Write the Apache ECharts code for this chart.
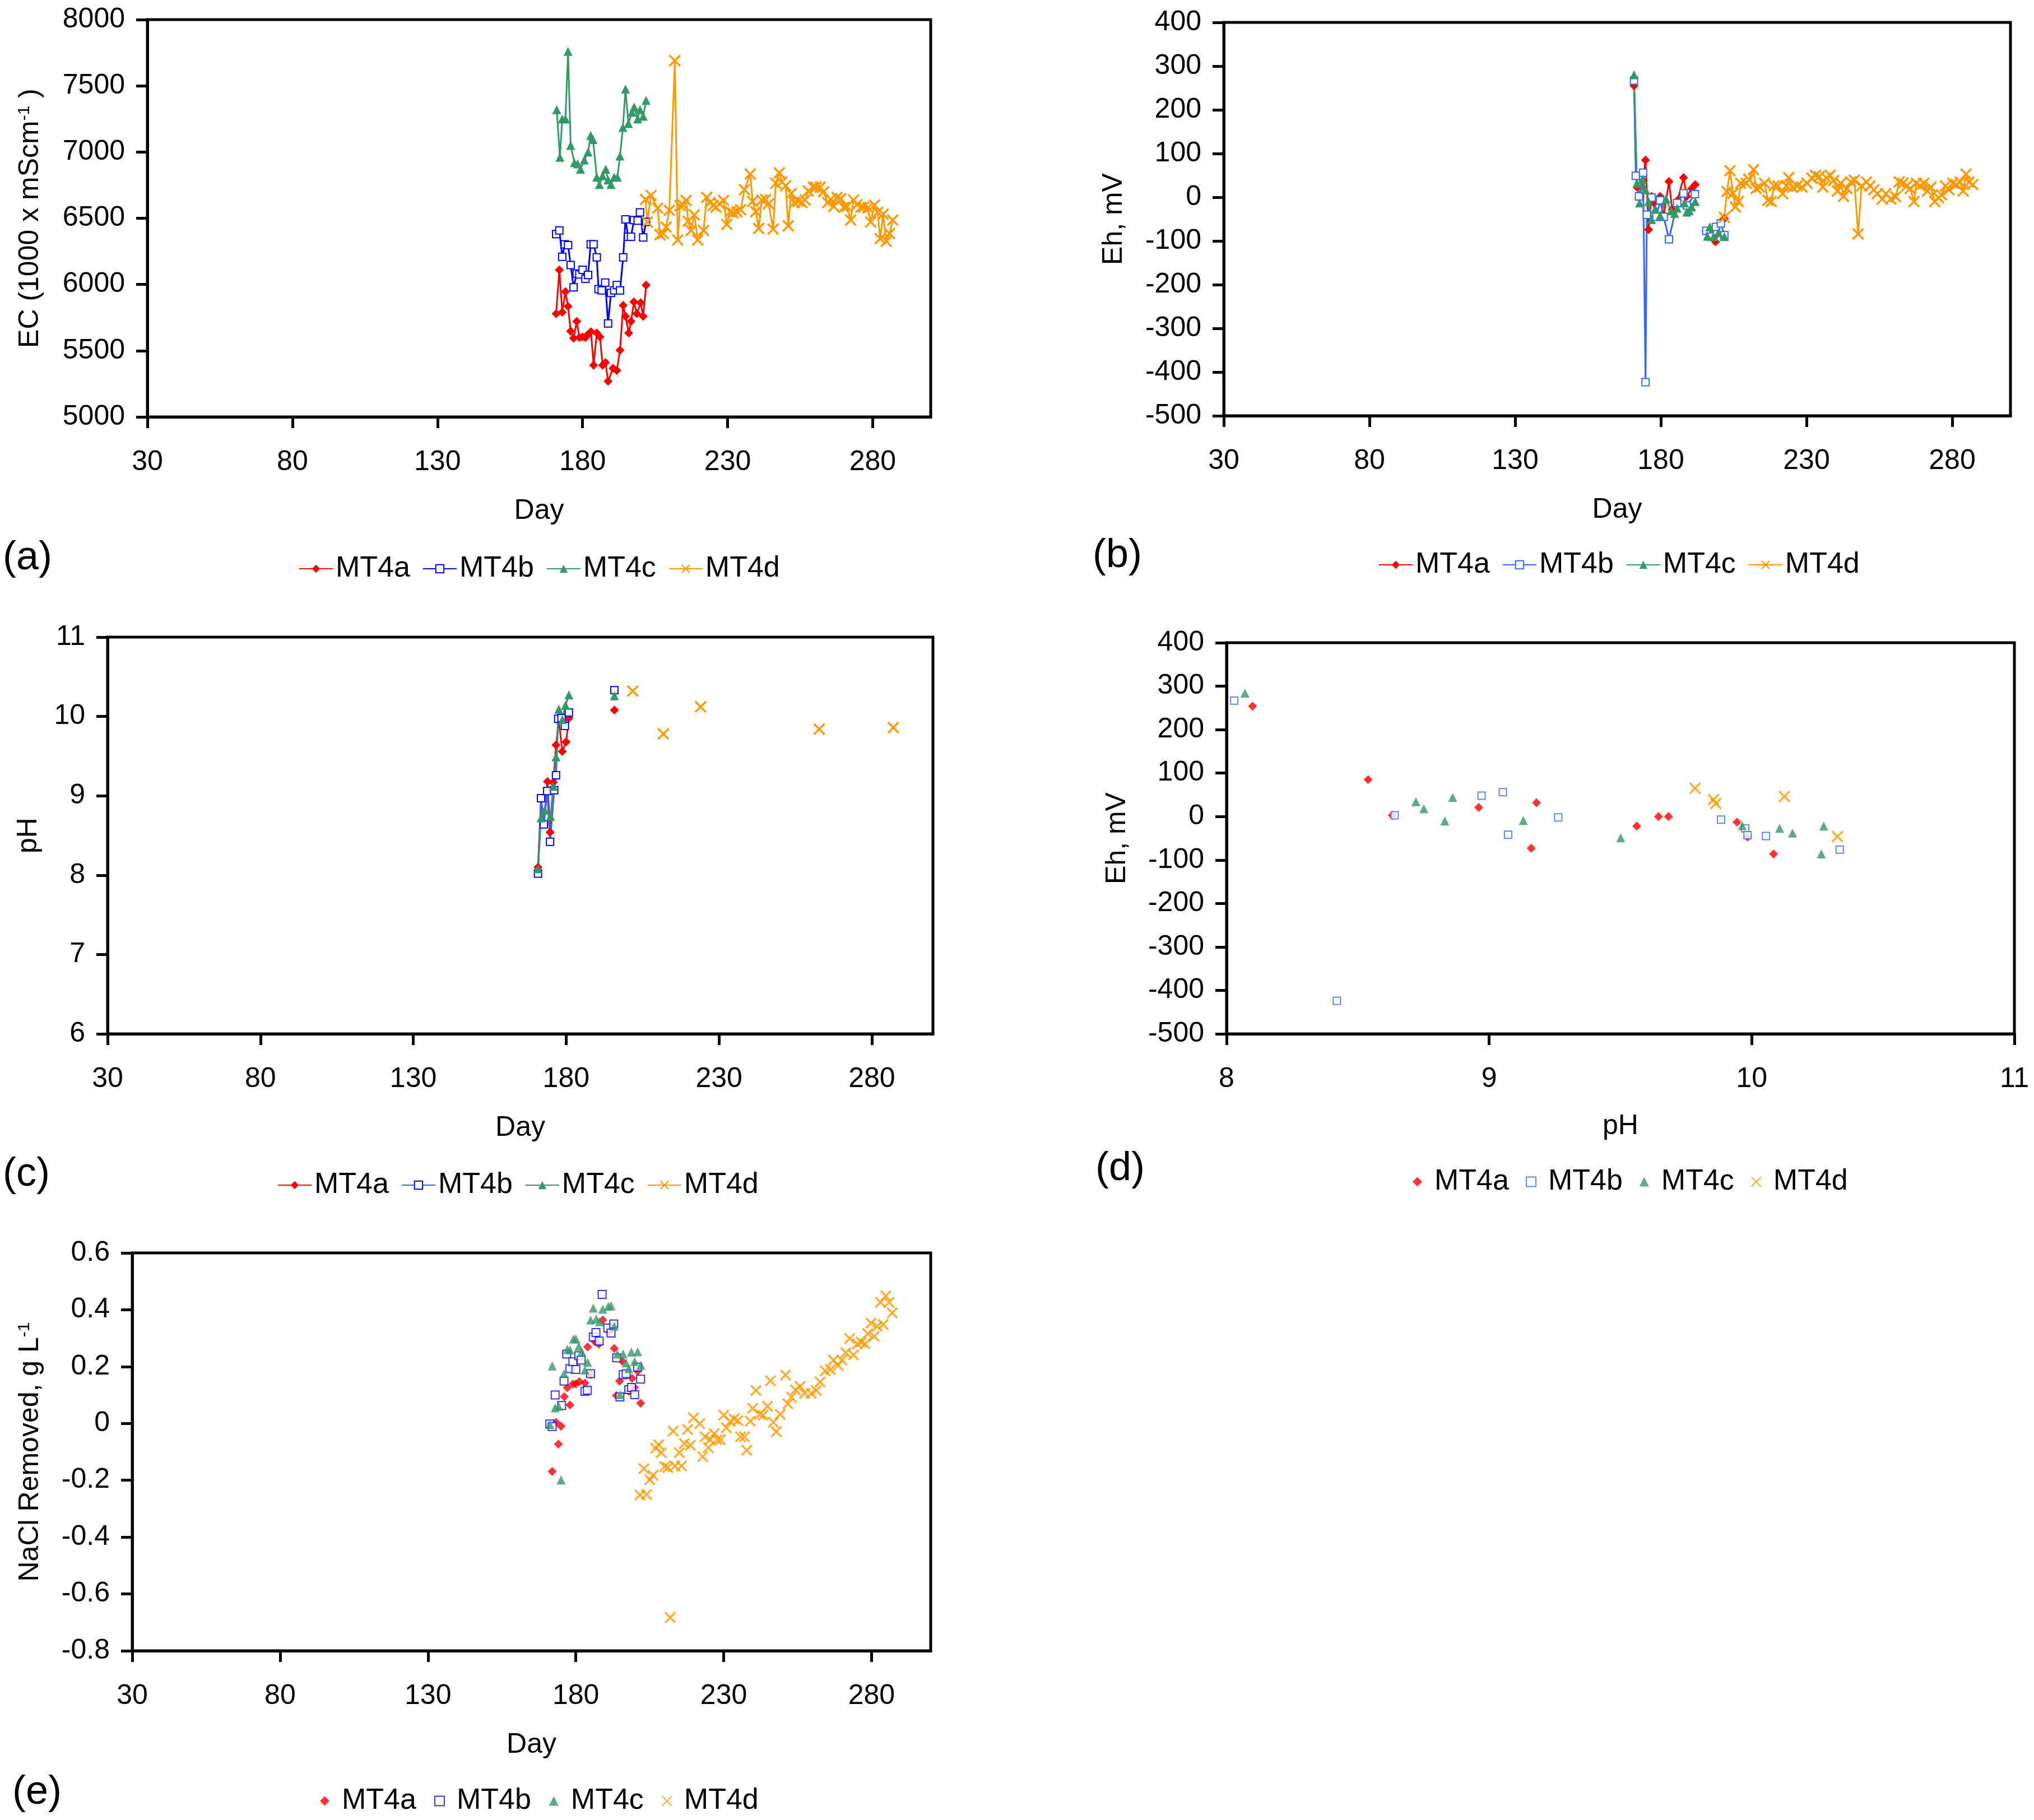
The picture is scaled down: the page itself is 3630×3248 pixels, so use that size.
<!DOCTYPE html>
<html><head><meta charset="utf-8">
<script src="https://cdn.jsdelivr.net/npm/echarts@6/dist/echarts.min.js"></script>
<style>html,body{margin:0;padding:0;background:#fff}#chart{width:3630px;height:3248px}</style>
</head><body><div id="chart"></div>
<script>
// ---------- (a) EC vs Day ----------
const ecDayA = [170.9,172,173,174.1,175,175.9,176.9,178,178.9,180,181,181.9,182.9,183.8,184.9,186,186.9,187.9,188.8,190.5,191.8,192.9,194,194.8,195.9,196.7,197.7,198.7,200,200.9,201.9];
const ecA = [5780,6110,5790,5946,5835,5647,5595,5721,5600,5604,5600,5624,5643,5390,5634,5604,5390,5410,5270,5367,5351,5503,5842,5760,5634,5721,5868,5780,5862,5760,5995];
const ecDayB = [170.9,172,173,173.9,175,175.9,176.9,178,178.9,180,181,181.9,182.8,183.8,184.9,185.5,186.6,187.8,188.8,189.8,190.9,191.8,192.9,194,194.8,195.7,196.7,197.7,199,199.8,200.9,201.9];
const ecB = [6380,6408,6209,6303,6297,6147,5979,6082,6076,6111,6043,6072,6303,6303,6205,5965,5955,6014,5706,5936,5955,5995,5955,6205,6492,6360,6360,6486,6482,6544,6355,6472];
const ecDayC = [171.1,172.2,173,174.1,175,175.9,177.2,178.3,179.3,180.6,181.9,182.8,183.6,184.9,185.8,186.9,188,188.8,189.8,190.9,192,192.9,193.9,194.8,195.8,197,197.8,199,199.8,200.9,201.9];
const ecC = [7320,6960,7250,7250,7760,7050,6920,6910,6870,6940,7000,7125,7095,6810,6755,6820,6870,6790,6755,6810,6810,6970,7185,7475,7215,7300,7340,7250,7320,7270,7390];
const ecDayD = [201.7,202.3,203.6,205.9,206.7,207.8,208.8,209.9,211.8,212.8,213.6,214.7,215.7,216.4,217.4,218.5,219.7,221.7,222.8,223.9,225,226,227.2,228.6,229.7,230.9,231.9,233.2,234.5,235.8,237.8,238.6,239.7,240.7,241.8,243.1,244.1,245.7,246.6,247.8,248.7,250,250.9,251.9,253,254.3,255.6,256.7,257.8,259.5,260.5,261.9,263.1,264.5,265.5,266.6,267.7,269,270,271.1,272.4,273.4,274.6,275.9,276.9,278.3,279.3,280.6,281.7,282.6,283.6,284.7,285.8,286.9];
const ecD = [6642,6472,6673,6576,6375,6385,6433,6560,7690,6336,6595,6599,6634,6478,6408,6525,6336,6408,6658,6618,6595,6583,6609,6634,6453,6550,6540,6550,6564,6716,6833,6628,6550,6423,6638,6642,6609,6419,6765,6843,6774,6745,6443,6687,6618,6628,6618,6638,6706,6735,6735,6735,6700,6618,6642,6589,6658,6648,6583,6589,6486,6638,6603,6583,6583,6579,6472,6599,6544,6346,6531,6326,6385,6486];

// ---------- (b) Eh vs Day ----------
const ehDayA = [170.8,171.8,172.9,173.9,174.75,175.8,176.8,177.7,179.75,181,182.8,183.9,185.75,187.8,188.9,190.6,191.8,193.5,195.6,197.25,198.75,200.6,201.8];
const ehA = [255,23,2,38,85,-74,2,-13,2,-42,36,-28,-7,45,2,20,29,null,-78,-90,-102,-57,-49];
const ehDayB = [170.8,171.4,172.5,173.9,174.75,175.2,176.8,178.5,179.75,181,182.8,185.6,187.8,188.9,191.7,193.5,195.6,196.8,198.9,200.6,201.8];
const ehB = [267,49,2,56,-423,-40,-1,-45,-7,-45,-96,-13,9,-19,7,null,-77,-90,-68,-60,-87];
const ehDayC = [170.8,171.8,172.7,173.75,174.75,175.8,176.8,178.1,179.75,181.8,183.5,184.75,185.6,188.1,188.9,189.75,190.6,191.8,193.5,196,196.8,198.1,199.75,201.8];
const ehC = [280,32,-13,41,17,-10,-51,-27,-42,-4,-31,-37,-25,-13,-34,-31,-22,-10,null,-89,-68,-90,-81,-90];
const ehDayD = [201.8,202.7,203.75,204.75,205.6,206.6,207.4,209.3,210.2,211.8,212.7,213.9,215.6,216.75,217.9,218.9,220.2,221.8,223.1,223.9,225.2,226.8,228.5,230.2,231.8,233.1,234.3,235.6,236.8,238.1,239.3,240.6,241.8,242.7,243.9,245.2,246.4,247.7,248.9,250.6,251.8,253.1,254.3,256,257.25,258.9,260.6,261.8,263.1,264.4,265.6,266.9,267.7,269,270.25,271.5,272.7,274,275.25,276.4,277.7,278.9,280.2,281.4,282.7,283.75,284.75,285.75,287.1];
const ehD = [-46,13,61,9,-22,-10,32,32,41,63,20,23,32,-7,-10,26,26,8,26,45,23,26,23,32,44,50,47,23,44,50,38,14,32,2,20,35,39,-84,26,35,26,17,8,-4,8,-4,1,35,32,26,20,-10,32,26,32,14,23,-10,-1,5,26,17,32,29,35,14,53,35,29];

// ---------- (c) pH vs Day ----------
const phDayA = [170.8,171.8,172.7,173.9,174.75,175.8,176.7,177.6,178.75,180,180.9,188,195.8];
const phA = [8.10,8.97,8.65,9.18,8.54,9.17,9.64,9.95,9.56,9.68,9.98,null,10.08];
const phDayB = [170.8,171.8,172.7,173.8,174.75,176.1,176.7,177.4,178.5,179.6,180.9,188,195.8];
const phB = [8.02,8.97,8.64,9.06,8.42,9.07,9.26,9.97,9.98,9.88,10.05,null,10.33];
const phDayC = [170.8,171.8,173,174.9,175.8,176.7,177.6,178.75,179.8,180.9,188,195.8];
const phC = [8.08,8.72,8.82,8.74,9.12,9.49,10.09,9.96,10.14,10.27,null,10.26];
const phDayD = [201.8,211.8,224,262.8,287];
const phD = [10.32,9.78,10.12,9.84,9.86];

// ---------- (d) Eh vs pH ----------
const dPhA = [8.099,8.539,8.631,8.96,9.18,9.16,9.562,9.645,9.683,9.944,9.984,10.083];
const dEhA = [254,85,3,21,32,-73,-22,0,0,-13,-47,-86];
const dPhB = [8.029,8.42,8.64,8.971,9.052,9.072,9.263,9.883,9.975,9.984,10.054,10.335];
const dEhB = [267,-424,3,48,56,-42,-2,-7,-27,-43,-45,-76];
const dPhC = [8.07,8.721,8.751,8.831,8.861,9.13,9.501,9.964,10.106,10.155,10.265,10.274];
const dEhC = [284,34,18,-10,44,-9,-49,-21,-27,-38,-86,-22];
const dPhD = [9.784,9.854,9.863,10.124,10.326];
const dEhD = [65,39,30,46,-46];

// ---------- (e) NaCl removed vs Day ----------
const eDayA = [172.0,173.3,174.1,175.0,176.1,177.1,178.0,179.0,180.0,181.2,183.1,184.0,185.0,186.5,187.8,189.1,191.3,193.0,193.7,194.8,195.7,197.9,199.0,199.8,200.9,201.9];
const eA = [-0.169,0.004,-0.073,-0.010,0.094,0.126,0.065,0.138,0.139,0.147,0.142,0.269,0.172,0.287,0.279,0.364,0.323,0.264,0.098,0.149,0.219,0.113,0.159,0.127,0.184,0.071];
const eDayB = [171.2,172.0,173.0,175.2,176.0,176.9,178.0,179.0,180.0,181.0,181.8,183.1,183.9,185.0,185.9,186.8,187.9,188.9,190.8,191.9,192.8,193.8,194.9,196.0,197.0,197.9,198.8,199.9,200.9,201.9];
const eB = [-0.002,-0.011,0.100,0.063,0.149,0.244,0.193,0.217,0.190,0.238,0.223,0.113,0.117,0.175,0.304,0.320,0.290,0.454,0.336,0.318,0.350,0.231,0.093,0.171,0.175,0.119,0.127,0.101,0.198,0.156];
const eDayC = [171.2,172.0,173.0,174.2,175.0,176.0,177.1,178.0,179.2,180.0,181.0,182.0,183.1,184.0,185.0,185.9,186.9,188.0,189.1,191.0,191.9,193.0,194.0,195.0,196.0,197.0,197.9,198.8,199.9,200.9,202.0];
const eC = [-0.004,0.202,0.055,0.060,-0.199,0.175,0.261,0.259,0.297,0.298,0.271,0.252,0.188,0.215,0.364,0.406,0.368,0.358,0.402,0.412,0.414,0.342,0.244,0.101,0.244,0.213,0.193,0.251,0.218,0.252,0.204];
const eDayD = [201.7,203.0,203.9,205.0,206.1,207.0,208.0,208.9,210.0,211.1,211.9,212.9,213.5,215.0,215.7,216.7,217.8,218.7,219.8,221.9,222.9,223.7,224.8,225.4,226.8,227.7,228.9,230.0,230.9,232.2,233.5,234.8,235.7,237.0,237.8,239.0,239.8,240.9,242.2,243.3,244.8,245.8,246.8,247.8,249.1,250.9,251.7,252.9,254.3,255.8,257.4,259.6,261.3,262.6,264.3,266.1,267.1,268.7,270.0,271.3,272.6,273.9,275.2,276.5,277.8,278.7,279.8,280.9,281.9,283.0,283.9,284.8,285.9,287.0];
const eD = [-0.252,-0.159,-0.250,-0.198,-0.183,-0.087,-0.075,-0.103,-0.152,-0.155,-0.683,-0.027,-0.150,-0.103,-0.150,-0.071,-0.021,-0.077,0.020,-0.001,-0.117,-0.047,-0.085,-0.057,-0.036,-0.057,-0.057,0.029,-0.015,0.007,0.016,0.010,-0.047,-0.047,-0.094,0.008,0.053,0.116,0.032,0.029,0.060,0.150,0.004,-0.029,0.032,0.170,0.069,0.092,0.118,0.130,0.106,0.106,0.116,0.146,0.185,0.190,0.223,0.204,0.223,0.249,0.299,0.241,0.280,0.286,0.280,0.316,0.353,0.307,0.342,0.426,0.348,0.448,0.426,0.389];

const seriesNames = ['MT4a','MT4b','MT4c','MT4d'];
const panelLabels = ['(a)','(b)','(c)','(d)','(e)'];

// ---------- styling ----------
const F = 'Liberation Sans, Arial, sans-serif';
const RED='#FF0000', BLUE='#0000FF', BLUE2='#3366FF', GREEN='#339966', ORANGE='#FF9900';
const XPATH='path://M0,0L10,10M10,0L0,10';

function zip(xs, ys){ return xs.map((x,i)=>[x, ys[i]]); }
function gapped(xs, ys){ const out=[]; xs.forEach((x,i)=>{ out.push([x,ys[i]]); if(i<xs.length-1) out.push([x,null]); }); return out; }
const plain = v => String(Math.round(v*1000)/1000);

const grids = [
  {left:263, top:35, width:1398, height:709},
  {left:2184, top:40, width:1404, height:702},
  {left:192, top:1137, width:1473, height:708},
  {left:2189, top:1147, width:1406, height:698},
  {left:236, top:2236, width:1425, height:710}
].map(g => Object.assign(g, {show:true, borderColor:'#000', borderWidth:5, backgroundColor:'transparent', containLabel:false}));

const axisCommon = {
  axisLine:{show:true, onZero:false, lineStyle:{color:'#000', width:5}},
  axisTick:{show:true, inside:false, length:20, lineStyle:{color:'#000', width:5}},
  splitLine:{show:false},
  nameLocation:'middle'
};
const supRich = {sup:{fontSize:30, fontFamily:F, color:'#000', verticalAlign:'top', padding:[0,0,18,0]}};
function xAx(gi, name, min, max, interval, gap, showMax){
  return Object.assign({}, axisCommon, {
    type:'value', gridIndex:gi, min, max, interval, name, nameGap:gap,
    nameTextStyle:{fontSize:50, fontFamily:F, color:'#000'},
    axisLabel:{fontSize:50, fontFamily:F, color:'#000', margin:56, showMaxLabel:showMax, formatter:plain}
  });
}
function yAx(gi, name, min, max, interval, gap){
  return Object.assign({}, axisCommon, {
    type:'value', gridIndex:gi, min, max, interval, name, nameGap:gap,
    nameTextStyle:{fontSize:50, fontFamily:F, color:'#000', rich:supRich},
    axisLabel:{fontSize:50, fontFamily:F, color:'#000', margin:40, formatter:plain}
  });
}

function mk(kind, name, gi, data, color, symbol, size, lineColor){
  const isX = symbol === XPATH;
  const isEmpty = symbol.indexOf('empty') === 0;
  const s = {
    type:kind, name, xAxisIndex:gi, yAxisIndex:gi, data, symbol, symbolSize:size,
    itemStyle:{color, borderColor:color, borderWidth: isX ? 3.5 : (isEmpty ? 3 : 0)},
    emphasis:{disabled:true}, animation:false, silent:true
  };
  if (kind === 'line') {
    s.showSymbol = true; s.connectNulls = false;
    s.lineStyle = {color: lineColor || color, width:3};
  }
  return s;
}

const series = [];
const tag = (n, p) => n + '#' + p;
// (a)
series.push(mk('line', tag('MT4a','a'), 0, zip(ecDayA, ecA), RED, 'diamond', 16));
series.push(mk('line', tag('MT4b','a'), 0, zip(ecDayB, ecB), BLUE, 'emptyRect', 13));
series.push(mk('line', tag('MT4c','a'), 0, zip(ecDayC, ecC), GREEN, 'triangle', 16));
series.push(mk('line', tag('MT4d','a'), 0, zip(ecDayD, ecD), ORANGE, XPATH, 19));
// (b)
series.push(mk('line', tag('MT4a','b'), 1, zip(ehDayA, ehA), RED, 'diamond', 16));
series.push(mk('line', tag('MT4b','b'), 1, zip(ehDayB, ehB), BLUE2, 'emptyRect', 13));
series.push(mk('line', tag('MT4c','b'), 1, zip(ehDayC, ehC), GREEN, 'triangle', 16));
series.push(mk('line', tag('MT4d','b'), 1, zip(ehDayD, ehD), ORANGE, XPATH, 19));
// (c)
series.push(mk('line', tag('MT4a','c'), 2, zip(phDayA, phA), RED, 'diamond', 16));
series.push(mk('line', tag('MT4b','c'), 2, zip(phDayB, phB), BLUE, 'emptyRect', 13, BLUE2));
series.push(mk('line', tag('MT4c','c'), 2, zip(phDayC, phC), GREEN, 'triangle', 16));
series.push(mk('line', tag('MT4d','c'), 2, gapped(phDayD, phD), ORANGE, XPATH, 19));
// (d)
series.push(mk('scatter', tag('MT4a','d'), 3, zip(dPhA, dEhA), RED, 'diamond', 16));
series.push(mk('scatter', tag('MT4b','d'), 3, zip(dPhB, dEhB), BLUE2, 'emptyRect', 13));
series.push(mk('scatter', tag('MT4c','d'), 3, zip(dPhC, dEhC), GREEN, 'triangle', 16));
series.push(mk('scatter', tag('MT4d','d'), 3, zip(dPhD, dEhD), ORANGE, XPATH, 19));
// (e)
series.push(mk('scatter', tag('MT4a','e'), 4, zip(eDayA, eA), RED, 'diamond', 16));
series.push(mk('scatter', tag('MT4b','e'), 4, zip(eDayB, eB), BLUE, 'emptyRect', 14));
series.push(mk('scatter', tag('MT4c','e'), 4, zip(eDayC, eC), GREEN, 'triangle', 16));
series.push(mk('scatter', tag('MT4d','e'), 4, zip(eDayD, eD), ORANGE, XPATH, 18));

function lg(p, left, top, isScatter, gap){
  return {
    data: seriesNames.map(n => tag(n, p)), left, top,
    itemWidth: isScatter ? 17 : 60, itemHeight: isScatter ? 17 : 18,
    itemGap: gap, selectedMode:false,
    textStyle:{fontSize:52, fontFamily:F, color:'#000', padding: isScatter ? [0,0,0,17] : 0},
    formatter: n => n.split('#')[0]
  };
}

const labelPos = [[5,1002],[1950,998],[5,2102],[1955,2092],[22,3205]];

const option = {
  backgroundColor:'#fff',
  animation:false,
  grid: grids,
  xAxis: [
    xAx(0,'Day',30,300,50,143,false),
    xAx(1,'Day',30,300,50,143,false),
    xAx(2,'Day',30,300,50,143,false),
    xAx(3,'pH',8,11,1,140,true),
    xAx(4,'Day',30,300,50,143,false)
  ],
  yAxis: [
    yAx(0,'EC (1000 x mScm{sup|-1} )',5000,8000,500,184),
    yAx(1,'Eh, mV',-500,400,100,171),
    yAx(2,'pH',6,11,1,116),
    yAx(3,'Eh, mV',-500,400,100,170),
    yAx(4,'NaCl Removed, g L{sup|-1}',-0.8,0.6,0.2,157)
  ],
  legend: [
    lg('a', 528, 984, false, 22),
    lg('b', 2455, 977, false, 22),
    lg('c', 490, 2084, false, 22),
    lg('d', 2516, 2078, true, 30),
    lg('e', 566, 3183, true, 32)
  ],
  graphic: panelLabels.map((t,i) => ({
    type:'text', left:labelPos[i][0], top:labelPos[i][1]-42,
    style:{text:t, fontSize:72, fontFamily:F, fill:'#000'}
  })),
  series
};

const chart = echarts.init(document.getElementById('chart'), null, {renderer:'canvas'});
chart.setOption(option);
</script>
</body></html>
